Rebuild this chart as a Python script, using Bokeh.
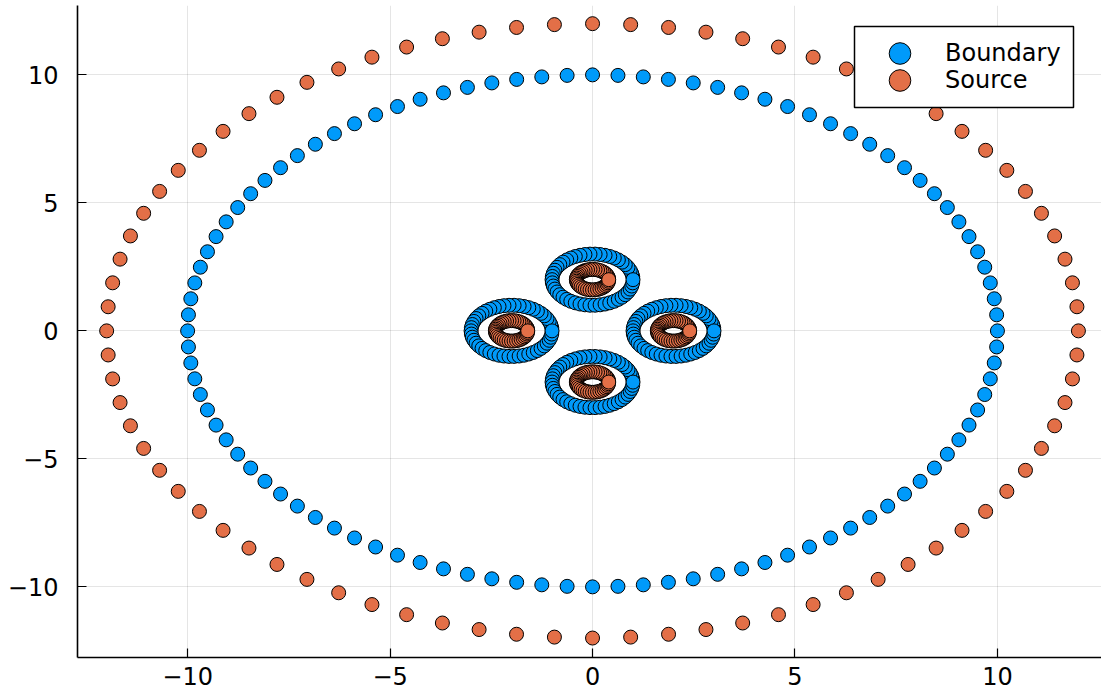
import numpy as np
from bokeh.plotting import figure
from bokeh.models import ColumnDataSource, FixedTicker, Legend, LegendItem, BoxAnnotation
from bokeh.embed import file_html
from bokeh.resources import INLINE

# Rings of points: centre x, centre y, radius, number of points
boundary_cx = [0.0, 0.0, 2.0, 0.0, -2.0]
boundary_cy = [0.0, 2.0, 0.0, -2.0, 0.0]
boundary_r = [10.0, 1.0, 1.0, 1.0, 1.0]
boundary_n = [100, 50, 50, 50, 50]

source_cx = [0.0, 0.0, 2.0, 0.0, -2.0]
source_cy = [0.0, 2.0, 0.0, -2.0, 0.0]
source_r = [12.0, 0.4, 0.4, 0.4, 0.4]
source_n = [80, 40, 40, 40, 40]

x_ticks = [-10, -5, 0, 5, 10]
y_ticks = [-10, -5, 0, 5, 10]

series_names = ["Boundary", "Source"]
series_colors = ["#009AFA", "#E36F47"]


def ring_points(cx, cy, r, n):
    xs, ys = [], []
    for c_x, c_y, rad, num in zip(cx, cy, r, n):
        t = 2 * np.pi * np.arange(1, num + 1) / num
        xs.extend(c_x + rad * np.cos(t))
        ys.extend(c_y + rad * np.sin(t))
    return xs, ys


bx, by = ring_points(boundary_cx, boundary_cy, boundary_r, boundary_n)
sx, sy = ring_points(source_cx, source_cy, source_r, source_n)

FONT = "DejaVu Sans"
FS = "24px"

p = figure(width=1101, height=698, output_backend="svg", toolbar_location=None,
           x_range=(-12.72, 12.57), y_range=(-12.76, 12.71),
           min_border_left=77, min_border_right=0, min_border_top=5, min_border_bottom=41)
p.outline_line_color = None
p.background_fill_color = "white"
p.border_fill_color = "white"

r1 = p.scatter(x="x", y="y", source=ColumnDataSource(dict(x=bx, y=by)), size=14,
               fill_color=series_colors[0], line_color="black", line_width=1)
r2 = p.scatter(x="x", y="y", source=ColumnDataSource(dict(x=sx, y=sy)), size=14,
               fill_color=series_colors[1], line_color="black", line_width=1)

for ax, ticks in ((p.xaxis, x_ticks), (p.yaxis, y_ticks)):
    ax.ticker = FixedTicker(ticks=ticks)
    ax.axis_line_color = "black"
    ax.axis_line_width = 1.6
    ax.major_tick_line_color = "black"
    ax.major_tick_line_width = 1.2
    ax.major_tick_in = 9
    ax.major_tick_out = 0
    ax.minor_tick_line_color = None
    ax.major_label_text_font = FONT
    ax.major_label_text_font_size = FS
    ax.major_label_text_color = "black"
p.yaxis.major_label_standoff = 19
p.xaxis.major_label_standoff = 9

p.grid.grid_line_color = "black"
p.grid.grid_line_alpha = 0.1
p.grid.grid_line_width = 1
p.xgrid.ticker = FixedTicker(ticks=x_ticks)
p.ygrid.ticker = FixedTicker(ticks=y_ticks)

# legend frame (screen units, relative to the plot frame, y upwards)
box = BoxAnnotation(left=777, right=996, top=631, bottom=550,
                    left_units="screen", right_units="screen",
                    top_units="screen", bottom_units="screen",
                    fill_color="white", fill_alpha=1.0,
                    line_color="black", line_width=1.5, line_alpha=1.0)
p.add_layout(box)

common = dict(margin=0, padding=0, spacing=0, glyph_width=91, glyph_height=54,
              label_standoff=0, label_width=128, label_text_font=FONT,
              label_text_font_size=FS, label_text_color="black",
              border_line_color=None, background_fill_alpha=0.0)
legA = Legend(items=[LegendItem(label=series_names[0], renderers=[r1])],
              location=(777, 577), **common)
legB = Legend(items=[LegendItem(label=series_names[1], renderers=[r2])],
              location=(777, 550), **common)
p.add_layout(legA, "center")
p.add_layout(legB, "center")

open("out.html", "w").write(file_html(p, INLINE))
